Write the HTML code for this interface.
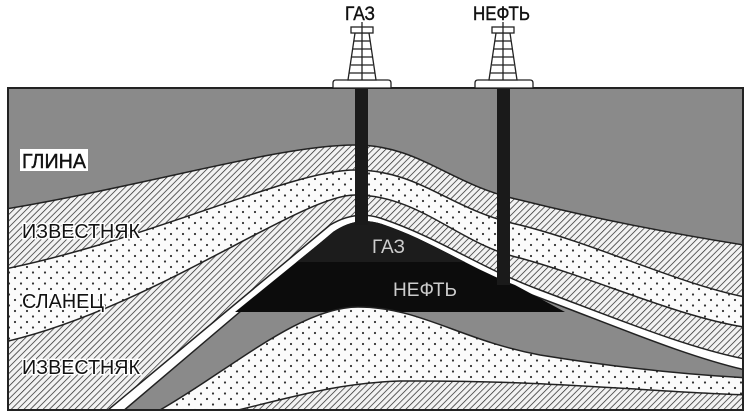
<!DOCTYPE html>
<html><head><meta charset="utf-8"><style>
html,body{margin:0;padding:0;background:#fff;width:750px;height:416px;overflow:hidden}
svg{display:block}
text{font-family:"Liberation Sans",sans-serif}
</style></head><body>
<svg width="750" height="416" viewBox="0 0 750 416" xmlns="http://www.w3.org/2000/svg">
<defs>
<pattern id="hatch" width="4.5" height="4.5" patternUnits="userSpaceOnUse" patternTransform="rotate(45)">
<rect width="5" height="5" fill="#f2f2f2"/><line x1="0" y1="0" x2="0" y2="5" stroke="#222" stroke-width="1.4"/>
</pattern>
<pattern id="dots" width="12" height="11" patternUnits="userSpaceOnUse">
<rect width="12" height="11" fill="#fbfbfb"/><circle cx="3" cy="3" r="1.1" fill="#333"/><circle cx="9" cy="8.5" r="1.1" fill="#333"/>
</pattern>
<clipPath id="box"><rect x="8" y="88" width="735" height="322"/></clipPath>
<clipPath id="gas"><rect x="0" y="0" width="750" height="262"/></clipPath>
</defs>
<g clip-path="url(#box)">
<rect x="8" y="88" width="735" height="322" fill="#8a8a8a"/>
<path d="M0,210 C150,185 280,145 355,145 C420,145 450,185 520,200 C600,220 680,235 750,246 L750,416 L0,416 Z" fill="url(#hatch)" stroke="#222" stroke-width="1.5"/>
<path d="M0,270 C150,240 290,170 355,170 C420,170 450,210 520,225 C600,245 680,285 750,298 L750,416 L0,416 Z" fill="url(#dots)" stroke="#222" stroke-width="1.5"/>
<path d="M0,343 C150,310 300,195 355,195 C420,195 460,245 520,258 C600,280 680,318 750,328 L750,416 L0,416 Z" fill="url(#hatch)" stroke="#222" stroke-width="1.5"/>
<path d="M108,410 L330,225 Q355,210 380,218 C440,238 480,268 540,290 C620,320 690,349 750,360 L750,416 L108,416 Z" fill="#fff" stroke="#222" stroke-width="1.5"/>
<path d="M122,412 L334,232 Q357,219 382,226 C440,246 480,276 540,298 C620,328 690,358 750,371 L750,416 L122,416 Z" fill="#8a8a8a" stroke="#222" stroke-width="1.5"/>
<path d="M235,312 L336,230 Q358,216 382,224 C430,240 470,268 515,285 L565,312 Z" fill="#0c0c0c"/>
<path clip-path="url(#gas)" d="M235,312 L336,230 Q358,216 382,224 C430,240 470,268 515,285 L565,312 Z" fill="#1c1c1c"/>
<path d="M160,410 C230,370 300,307 358,307 C420,307 460,340 540,355 C620,368 690,375 750,378 L750,416 L160,416 Z" fill="url(#dots)" stroke="#222" stroke-width="1.5"/>
<path d="M230,412 C300,395 340,383 400,381 C550,380 650,392 750,395 L750,416 L230,416 Z" fill="url(#hatch)" stroke="#222" stroke-width="1.5"/>
<rect x="355" y="88" width="13" height="137" fill="#1a1a1a"/>
<rect x="497" y="88" width="13" height="197" fill="#1a1a1a"/>
</g>
<rect x="8" y="88" width="735" height="322" fill="none" stroke="#222" stroke-width="2"/>
<g stroke="#222" stroke-width="1.3" fill="#fff">
<path d="M333,88 L333,83 Q333,80 336,80 L388,80 Q391,80 391,83 L391,88 Z"/>
<path d="M355,33 L348,80 L376,80 L369,33 Z"/>
<rect x="351" y="27" width="22" height="6"/>
<line x1="362" y1="22" x2="362" y2="80"/>
<line x1="354" y1="41" x2="370" y2="41"/><line x1="353" y1="49" x2="371" y2="49"/><line x1="352" y1="57" x2="372" y2="57"/><line x1="351" y1="65" x2="373" y2="65"/><line x1="349" y1="73" x2="375" y2="73"/>
<path d="M475,88 L475,83 Q475,80 478,80 L530,80 Q533,80 533,83 L533,88 Z"/>
<path d="M496,33 L489,80 L517,80 L510,33 Z"/>
<rect x="492" y="27" width="22" height="6"/>
<line x1="503" y1="22" x2="503" y2="80"/>
<line x1="495" y1="41" x2="511" y2="41"/><line x1="494" y1="49" x2="512" y2="49"/><line x1="493" y1="57" x2="513" y2="57"/><line x1="492" y1="65" x2="514" y2="65"/><line x1="490" y1="73" x2="516" y2="73"/>
</g>
<text x="345" y="20" font-size="19" textLength="30" lengthAdjust="spacingAndGlyphs" fill="#111" stroke="#111" stroke-width="0.4">ГАЗ</text>
<text x="473" y="20" font-size="19" textLength="57" lengthAdjust="spacingAndGlyphs" fill="#111" stroke="#111" stroke-width="0.4">НЕФТЬ</text>
<rect x="20" y="149" width="68" height="22" fill="#fff"/>
<text x="22" y="168" font-size="20" textLength="64" lengthAdjust="spacingAndGlyphs" fill="#111" stroke="#111" stroke-width="0.4">ГЛИНА</text>
<text x="22" y="238" font-size="20" textLength="118" lengthAdjust="spacingAndGlyphs" fill="#111" stroke="#fff" stroke-width="3" paint-order="stroke">ИЗВЕСТНЯК</text>
<text x="22" y="308" font-size="20" textLength="82" lengthAdjust="spacingAndGlyphs" fill="#111" stroke="#fff" stroke-width="3" paint-order="stroke">СЛАНЕЦ</text>
<text x="22" y="374" font-size="20" textLength="118" lengthAdjust="spacingAndGlyphs" fill="#111" stroke="#fff" stroke-width="3" paint-order="stroke">ИЗВЕСТНЯК</text>
<text x="372" y="253" font-size="19" textLength="33" lengthAdjust="spacingAndGlyphs" fill="#ccc">ГАЗ</text>
<text x="393" y="296" font-size="19" textLength="64" lengthAdjust="spacingAndGlyphs" fill="#ccc">НЕФТЬ</text>
</svg>
</body></html>
